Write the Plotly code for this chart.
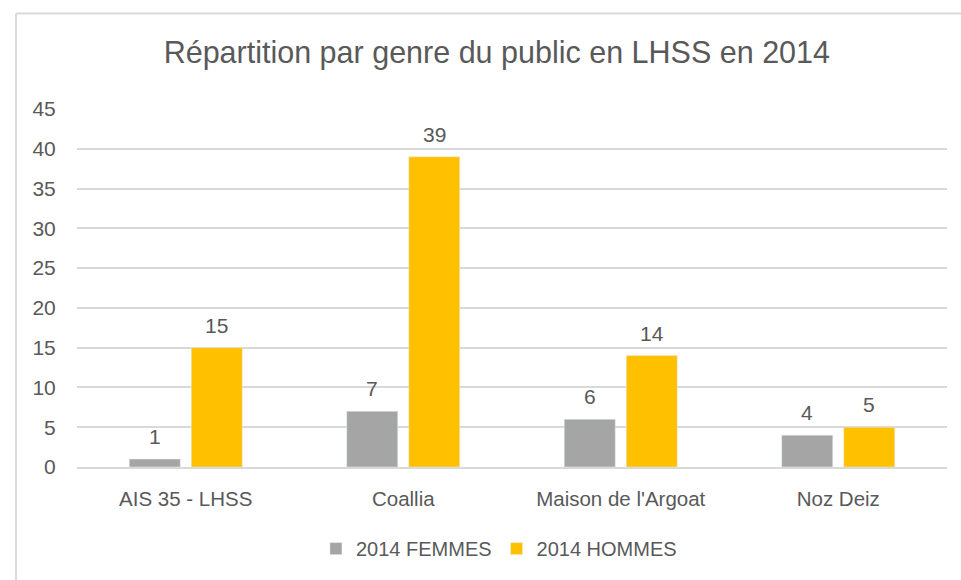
import plotly.graph_objects as go

categories = ["AIS 35 - LHSS", "Coallia", "Maison de l'Argoat", "Noz Deiz"]
femmes = [1, 7, 6, 4]
hommes = [15, 39, 14, 5]
series_names = ["2014 FEMMES", "2014 HOMMES"]
y_ticks = [0, 5, 10, 15, 20, 25, 30, 35, 40, 45]

FONT = "Liberation Sans, Arial, sans-serif"
TXT = "#595959"
GRAY = "#A5A5A5"
GOLD = "#FFC000"

BARGAP = 0.43
GROUPGAP = 0.177

fig = go.Figure()
fig.add_trace(go.Bar(name=series_names[0], x=categories, y=femmes, marker_color=GRAY))
fig.add_trace(go.Bar(name=series_names[1], x=categories, y=hommes, marker_color=GOLD))

# data labels above bars (offset from category center per grouped layout)
slot = (1 - BARGAP) / 2
for s_idx, vals in enumerate([femmes, hommes]):
    off = (s_idx - 0.5) * slot
    for i, v in enumerate(vals):
        fig.add_annotation(x=i + off, y=v, xref="x", yref="y", text=str(v),
                           showarrow=False, yanchor="bottom", yshift=9,
                           font=dict(family=FONT, size=21, color=TXT))

# chart frame lines (partial border, as in cropped source)
fig.add_shape(type="line", xref="paper", yref="paper", x0=-0.0701, x1=1.05, y0=1.267, y1=1.267,
              line=dict(color="#D9D9D9", width=2))
fig.add_shape(type="line", xref="paper", yref="paper", x0=-0.0701, x1=-0.0701, y0=1.267, y1=-0.35,
              line=dict(color="#D9D9D9", width=2))

fig.update_layout(
    width=961, height=580,
    margin=dict(l=77, r=14, t=109, b=111),
    paper_bgcolor="white", plot_bgcolor="white",
    barmode="group", bargap=BARGAP, bargroupgap=GROUPGAP,
    title=dict(text="Répartition par genre du public en LHSS en 2014", x=0.517, xanchor="center",
               y=1 - 52 / 580, yanchor="middle", font=dict(family=FONT, size=30.5, color=TXT)),
    font=dict(family=FONT, color=TXT, size=20),
    showlegend=True,
    legend=dict(orientation="h", x=0.485, xanchor="center", y=-0.228, yanchor="middle",
                font=dict(family=FONT, size=20, color=TXT), itemwidth=30, traceorder="normal"),
)
fig.update_yaxes(range=[0, 45], tickvals=y_ticks, showgrid=True, gridcolor="#D9D9D9", gridwidth=1.5,
                 zeroline=False, showline=False, ticks="outside", ticklen=16, tickcolor="rgba(0,0,0,0)",
                 tickfont=dict(family=FONT, size=21, color=TXT), fixedrange=True)
fig.update_xaxes(showline=True, linecolor="#D9D9D9", linewidth=1.5, ticks="outside", ticklen=13,
                 tickcolor="rgba(0,0,0,0)", tickfont=dict(family=FONT, size=20.5, color=TXT))

fig.write_html("out.html", config={"displayModeBar": False},
               post_script="document.body.style.margin='0';document.body.style.overflow='hidden';")
